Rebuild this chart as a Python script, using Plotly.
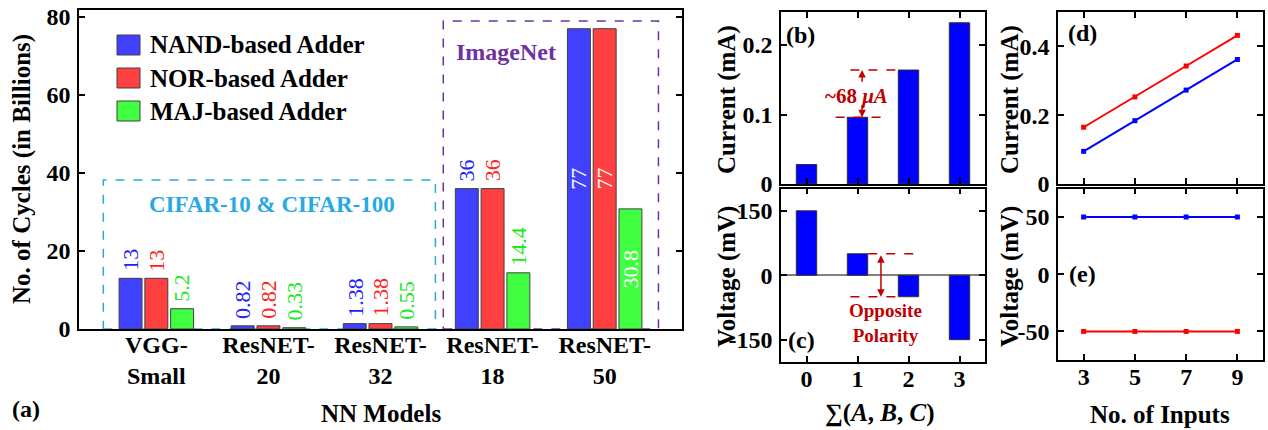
import plotly.graph_objects as go

# ---------------- data ----------------
models = ["VGG-<br>Small", "ResNET-<br>20", "ResNET-<br>32", "ResNET-<br>18", "ResNET-<br>50"]
series_names = ["NAND-based Adder", "NOR-based Adder", "MAJ-based Adder"]
nand_cycles = [13, 0.82, 1.38, 36, 77]
nor_cycles = [13, 0.82, 1.38, 36, 77]
maj_cycles = [5.2, 0.33, 0.55, 14.4, 30.8]
inside_label_models = ["ResNET-<br>50"]

sum_abc = [0, 1, 2, 3]
current_b = [0.028, 0.096, 0.164, 0.232]   # mA
voltage_c = [150, 50, -50, -150]          # mV

n_inputs = [3, 5, 7, 9]
current_red = [0.165, 0.253, 0.343, 0.432]
current_blue = [0.095, 0.184, 0.273, 0.362]
voltage_blue = [50, 50, 50, 50]
voltage_red = [-50, -50, -50, -50]

ticks_a = [0, 20, 40, 60, 80]
ticks_b = [0, 0.1, 0.2]
ticks_c = [-150, 0, 150]
ticks_c_text = ["-150", "0", "150"]
ticks_d = [0, 0.2, 0.4]
ticks_e = [-50, 0, 50]
ticks_e_text = ["-50", "0", "50"]

# ---------------- style ----------------
SERIF = "Liberation Serif"
W, H = 1268, 430
BARGAP = 0.31
bar_cols = ["#4040FF", "#FF4040", "#40FF40"]
lab_cols = ["#2020FF", "#FF2020", "#20E820"]
DARKRED = "#C00000"
CYAN = "#29A9E1"
PURPLE = "#7030A0"


def px(x):
    return x / W


def py(y):
    return 1 - y / H


fig = go.Figure()
ann = []
series_vals = [nand_cycles, nor_cycles, maj_cycles]
slot = (1 - BARGAP) / len(series_vals)

for k, (name, vals, col, lcol) in enumerate(zip(series_names, series_vals, bar_cols, lab_cols)):
    fig.add_trace(go.Bar(
        x=models, y=vals, name=name, showlegend=False,
        marker=dict(color=col, line=dict(color="#404040", width=1)),
        xaxis="x", yaxis="y"))
    off = (k - (len(series_vals) - 1) / 2) * slot
    for i, (m, v) in enumerate(zip(models, vals)):
        inside = m in inside_label_models
        ann.append(dict(
            x=i + off, y=v / 2 if inside else v, xref="x", yref="y",
            text=str(v), showarrow=False, textangle=-90,
            xanchor="center", yanchor="middle" if inside else "bottom",
            yshift=0 if inside else 5,
            font=dict(family=SERIF, size=22, color="white" if inside else lcol)))

fig.add_trace(go.Bar(x=sum_abc, y=current_b, width=0.4, showlegend=False,
                     marker=dict(color="#0000FF", line=dict(color="#303030", width=1)),
                     xaxis="x2", yaxis="y2"))
fig.add_trace(go.Bar(x=sum_abc, y=voltage_c, width=0.4, showlegend=False,
                     marker=dict(color="#0000FF", line=dict(color="#303030", width=1)),
                     xaxis="x3", yaxis="y3"))

for yv, col, ax in [(current_red, "#FF0000", "4"), (current_blue, "#0000FF", "4"),
                    (voltage_blue, "#0000FF", "5"), (voltage_red, "#FF0000", "5")]:
    fig.add_trace(go.Scatter(x=n_inputs, y=yv, mode="lines+markers", showlegend=False,
                             line=dict(color=col, width=2),
                             marker=dict(symbol="square", size=5, color=col),
                             xaxis="x" + ax, yaxis="y" + ax))

tickfont = dict(family=SERIF, size=24, color="black", weight="bold")
base = dict(showline=True, linecolor="black", linewidth=1.5, mirror="ticks",
            ticks="inside", ticklen=6, tickwidth=1.5, tickcolor="black",
            showgrid=False, zeroline=False, tickfont=tickfont, fixedrange=True,
            automargin=False)

xa = [79, 682]
xb = [781, 985]
xd = [1058, 1263]
y_top = [184, 12]
y_bot = [362, 188.5]
y_bot_e = [360, 188.5]

fig.update_layout(
    template="none",
    width=W, height=H, margin=dict(l=0, r=0, t=0, b=0, pad=0), autosize=False,
    paper_bgcolor="white", plot_bgcolor="white",
    barmode="group", bargap=BARGAP, bargroupgap=0.11,
    font=dict(family=SERIF, color="black"),
    xaxis=dict(base, domain=[px(xa[0]), px(xa[1])], anchor="y", ticks="", mirror=True,
               range=[-0.69, 4.69], ticklabelstandoff=-7),
    yaxis=dict(base, domain=[py(329), py(10)], anchor="x", range=[0, 81.8],
               tickvals=ticks_a, ticklabelstandoff=2),
    xaxis2=dict(base, domain=[px(xb[0]), px(xb[1])], anchor="y2", range=[-0.5, 3.5],
                tickvals=sum_abc, showticklabels=False),
    yaxis2=dict(base, domain=[py(y_top[0]), py(y_top[1])], anchor="x2", range=[0, 0.2475],
                tickvals=ticks_b, ticklabelstandoff=2),
    xaxis3=dict(base, domain=[px(xb[0]), px(xb[1])], anchor="y3", range=[-0.5, 3.5],
                tickvals=sum_abc, ticklabelstandoff=-6),
    yaxis3=dict(base, domain=[py(y_bot[0]), py(y_bot[1])], anchor="x3", range=[-202, 202],
                tickvals=ticks_c, ticktext=ticks_c_text, ticklabelstandoff=2,
                zeroline=True, zerolinecolor="#808080", zerolinewidth=1.5),
    xaxis4=dict(base, domain=[px(xd[0]), px(xd[1])], anchor="y4", range=[2, 10],
                tickvals=n_inputs, showticklabels=False),
    yaxis4=dict(base, domain=[py(y_top[0]), py(y_top[1])], anchor="x4", range=[0, 0.5],
                tickvals=ticks_d, ticklabelstandoff=2),
    xaxis5=dict(base, domain=[px(xd[0]), px(xd[1])], anchor="y5", range=[2, 10],
                tickvals=n_inputs, ticklabelstandoff=-6),
    yaxis5=dict(base, domain=[py(y_bot_e[0]), py(y_bot_e[1])], anchor="x5", range=[-75, 75],
                tickvals=ticks_e, ticktext=ticks_e_text, ticklabelstandoff=2),
)

shapes = []
# dataset boxes in panel (a)
shapes.append(dict(type="rect", xref="x", yref="y", x0=-0.473, x1=2.49, y0=0, y1=38.2,
                   line=dict(color=CYAN, width=1.5, dash="dash"), fillcolor="rgba(0,0,0,0)", layer="below"))
shapes.append(dict(type="rect", xref="x", yref="y", x0=2.56, x1=4.48, y0=0, y1=79.0,
                   line=dict(color=PURPLE, width=1.5, dash="dash"), fillcolor="rgba(0,0,0,0)", layer="below"))
# manual legend squares
leg_rows = [45, 78, 111]
for yc, col in zip(leg_rows, bar_cols):
    shapes.append(dict(type="rect", xref="paper", yref="paper", x0=px(117), x1=px(140),
                       y0=py(yc + 10), y1=py(yc - 10), fillcolor=col,
                       line=dict(color="#404040", width=1)))
# panel (b) guide lines
shapes.append(dict(type="line", xref="x2", yref="y2", x0=0.57, x1=1.5, y0=current_b[1], y1=current_b[1],
                   line=dict(color=DARKRED, width=1.5, dash="dash")))
shapes.append(dict(type="line", xref="x2", yref="y2", x0=0.86, x1=1.8, y0=current_b[2], y1=current_b[2],
                   line=dict(color=DARKRED, width=1.5, dash="dash")))
# panel (c) guide lines
shapes.append(dict(type="line", xref="x3", yref="y3", x0=1.21, x1=2.16, y0=voltage_c[1], y1=voltage_c[1],
                   line=dict(color=DARKRED, width=1.5, dash="dash")))
shapes.append(dict(type="line", xref="x3", yref="y3", x0=0.86, x1=1.8, y0=voltage_c[2], y1=voltage_c[2],
                   line=dict(color=DARKRED, width=1.5, dash="dash")))
fig.update_layout(shapes=shapes)


def txt(text, x, y, size=25, color="black", rot=0, xanchor="center", weight="bold"):
    ann.append(dict(text=text, x=px(x), y=py(y), xref="paper", yref="paper", showarrow=False,
                    xanchor=xanchor, yanchor="middle", textangle=rot,
                    font=dict(family=SERIF, size=size, color=color, weight=weight)))


# legend text
for yc, name in zip(leg_rows, series_names):
    txt(name, 148, yc, size=25, xanchor="left")

txt("No. of Cycles (in Billions)", 22, 169, rot=-90)
txt("NN Models", 381, 413)
txt("(a)", 10, 409, size=24, xanchor="left")
txt("CIFAR-10 &amp; CIFAR-100", 272, 205, size=23, color=CYAN)
txt("ImageNet", 506, 52, size=24, color=PURPLE)

txt("Current (mA)", 727, 100, rot=-90)
txt("Voltage (mV)", 727, 277, rot=-90)
txt("∑(<i>A</i>, <i>B</i>, <i>C</i>)", 880, 413)
txt("(b)", 784, 35, size=24, xanchor="left")
txt("(c)", 786, 340, size=24, xanchor="left")

txt("Current (mA)", 1010, 100, rot=-90)
txt("Voltage (mV)", 1010, 277, rot=-90)
txt("No. of Inputs", 1160, 414)
txt("(d)", 1066, 33, size=24, xanchor="left")
txt("(e)", 1067, 274, size=24, xanchor="left")

# panel (b) annotation
ann.append(dict(x=1.09, y=current_b[2], ax=1.09, ay=0.145, xref="x2", yref="y2", axref="x2", ayref="y2",
                text="", showarrow=True, arrowhead=2, arrowsize=1, arrowwidth=1.5, arrowcolor=DARKRED))
ann.append(dict(x=1.09, y=current_b[1], ax=1.09, ay=0.116, xref="x2", yref="y2", axref="x2", ayref="y2",
                text="", showarrow=True, arrowhead=2, arrowsize=1, arrowwidth=1.5, arrowcolor=DARKRED))
ann.append(dict(x=0.99, y=0.127, xref="x2", yref="y2", showarrow=False, text="~68 <i>μA</i>",
                font=dict(family=SERIF, size=21, color=DARKRED, weight="bold")))
# panel (c) annotation
ann.append(dict(x=1.46, y=voltage_c[2], ax=1.46, ay=voltage_c[1], xref="x3", yref="y3", axref="x3", ayref="y3",
                text="", showarrow=True, arrowhead=2, arrowside="end+start", arrowsize=1, arrowwidth=1.5,
                arrowcolor=DARKRED))
ann.append(dict(x=1.54, y=-112, xref="x3", yref="y3", showarrow=False, text="Opposite<br>Polarity",
                font=dict(family=SERIF, size=19, color=DARKRED, weight="bold")))

fig.update_layout(annotations=ann)

fig.write_html("out.html")
